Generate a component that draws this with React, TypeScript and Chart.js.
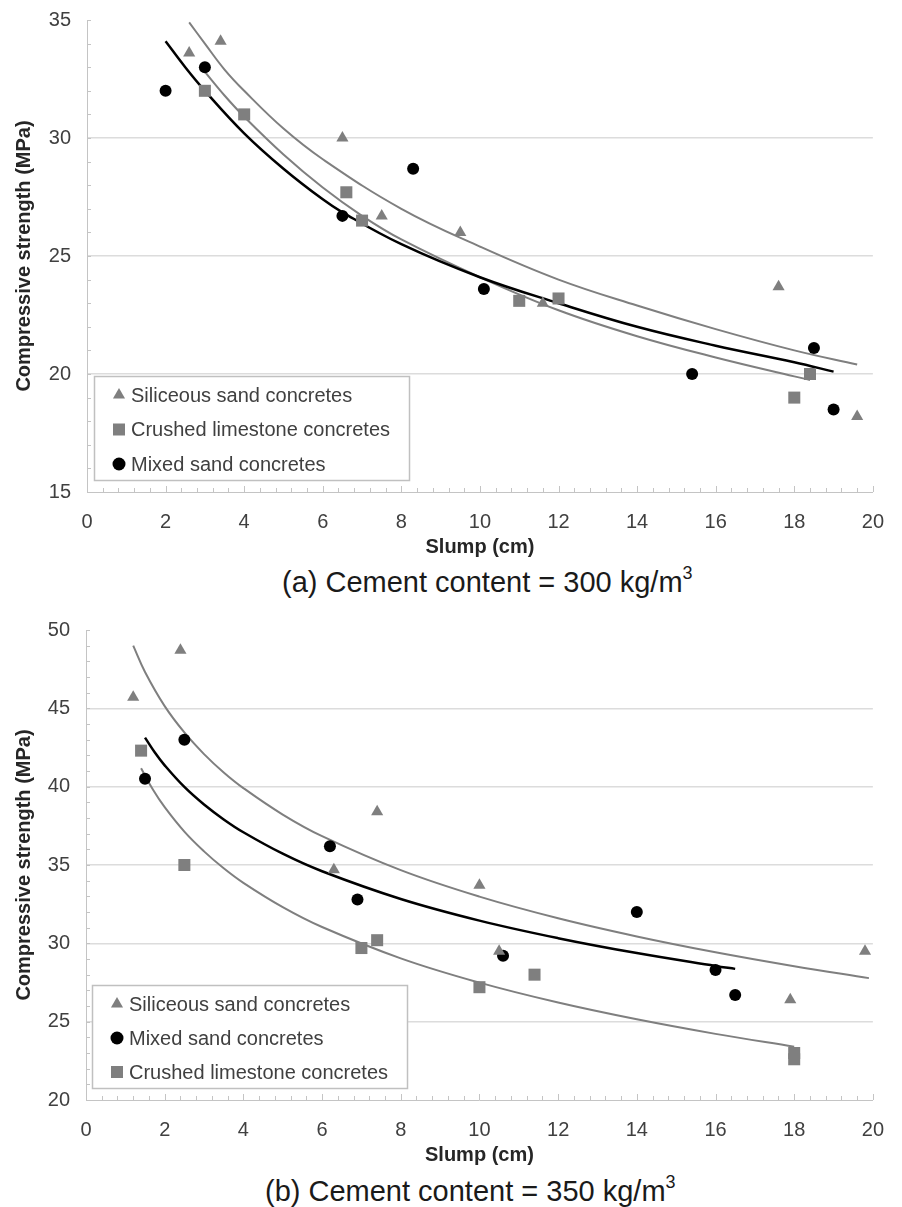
import React, { useEffect, useRef } from 'react';
import { Chart, registerables } from 'chart.js';

Chart.register(...registerables);

const FONT = '"Liberation Sans", Arial, Helvetica, sans-serif';
const GRAY = '#7f7f7f';
const BLACK = '#000000';
const AXIS = '#c4c4c4';
const GRID = '#dcdcdc';
const TICK_COLOR = '#404040';
const TITLE_COLOR = '#262626';

// ---------- shared axis ticks ----------
const X_TICKS = [0, 2, 4, 6, 8, 10, 12, 14, 16, 18, 20];
const A_Y_TICKS = [15, 20, 25, 30, 35];
const B_Y_TICKS = [20, 25, 30, 35, 40, 45, 50];
const X_MINOR_STEP = 0.4;
const Y_MINOR_STEP = 1;

// ---------- panel (a): cement content 300 kg/m3 ----------
const A_SIL_X = [2.6, 3.4, 6.5, 7.5, 9.5, 11.6, 17.6, 19.6];
const A_SIL_Y = [33.6, 34.1, 30.0, 26.7, 26.0, 23.0, 23.7, 18.2];
const A_CRU_X = [3.0, 4.0, 6.6, 7.0, 11.0, 12.0, 18.0, 18.4];
const A_CRU_Y = [32.0, 31.0, 27.7, 26.5, 23.1, 23.2, 19.0, 20.0];
const A_MIX_X = [2.0, 3.0, 6.5, 8.3, 10.1, 15.4, 18.5, 19.0];
const A_MIX_Y = [32.0, 33.0, 26.7, 28.7, 23.6, 20.0, 21.1, 18.5];

const A_SIL_FIT_X = [2.6, 3, 3.5, 4, 5, 6, 8, 10, 12, 14, 16, 18, 19.6];
const A_SIL_FIT_Y = [34.9, 34.0, 32.9, 32.0, 30.4, 29.1, 27.0, 25.4, 24.0, 22.9, 21.9, 21.0, 20.4];
const A_CRU_FIT_X = [3, 3.5, 4, 5, 6, 7, 8, 10, 12, 14, 16, 18, 18.4];
const A_CRU_FIT_Y = [32.8, 31.8, 30.9, 29.3, 27.9, 26.7, 25.7, 24.1, 22.7, 21.6, 20.7, 19.9, 19.75];
const A_MIX_FIT_X = [2, 2.5, 3, 4, 5, 6, 6.5, 8, 10, 12, 14, 16, 18, 19];
const A_MIX_FIT_Y = [34.1, 33.0, 32.0, 30.2, 28.7, 27.4, 26.85, 25.5, 24.1, 23.0, 22.0, 21.2, 20.5, 20.1];

// ---------- panel (b): cement content 350 kg/m3 ----------
const B_SIL_X = [1.2, 2.4, 6.3, 7.4, 10.0, 10.5, 17.9, 19.8];
const B_SIL_Y = [45.7, 48.7, 34.7, 38.4, 33.7, 29.5, 26.4, 29.5];
const B_MIX_X = [1.5, 2.5, 6.2, 6.9, 10.6, 14.0, 16.0, 16.5];
const B_MIX_Y = [40.5, 43.0, 36.2, 32.8, 29.2, 32.0, 28.3, 26.7];
const B_CRU_X = [1.4, 2.5, 7.0, 7.4, 10.0, 11.4, 18.0, 18.0];
const B_CRU_Y = [42.3, 35.0, 29.7, 30.2, 27.2, 28.0, 23.0, 22.6];

const B_SIL_FIT_X = [1.2, 1.5, 2, 2.5, 3, 3.5, 4, 5, 6, 8, 10, 12, 14, 16, 18, 19.9];
const B_SIL_FIT_Y = [49.0, 47.32, 45.14, 43.46, 42.08, 40.91, 39.91, 38.22, 36.84, 34.67, 32.98, 31.6, 30.44, 29.43, 28.54, 27.78];
const B_MIX_FIT_X = [1.5, 1.75, 2, 2.5, 3, 3.5, 4, 5, 6, 8, 10, 12, 14, 16, 16.5];
const B_MIX_FIT_Y = [43.13, 42.18, 41.36, 39.98, 38.86, 37.91, 37.09, 35.72, 34.6, 32.83, 31.45, 30.33, 29.38, 28.56, 28.37];
const B_CRU_FIT_X = [1.4, 1.7, 2, 2.5, 3, 3.5, 4, 5, 6, 8, 10, 12, 14, 16, 18];
const B_CRU_FIT_Y = [41.17, 39.82, 38.69, 37.13, 35.87, 34.79, 33.86, 32.31, 31.04, 29.04, 27.49, 26.22, 25.15, 24.22, 23.4];

const LABEL_SIL = 'Siliceous sand concretes';
const LABEL_CRU = 'Crushed limestone concretes';
const LABEL_MIX = 'Mixed sand concretes';

const pts = (xs: number[], ys: number[]) => xs.map((x, i) => ({ x, y: ys[i] }));

function scatterSet(label: string, xs: number[], ys: number[], style: string, color: string, radius: number) {
  return {
    label,
    data: pts(xs, ys),
    pointStyle: style,
    pointRadius: radius,
    pointBackgroundColor: color,
    pointBorderColor: color,
    pointBorderWidth: 0,
    backgroundColor: color,
    borderColor: color,
    showLine: false,
    isMarker: true,
  } as any;
}

function fitSet(xs: number[], ys: number[], color: string, width: number) {
  return {
    label: 'fit',
    data: pts(xs, ys),
    showLine: true,
    pointRadius: 0,
    borderColor: color,
    borderWidth: width,
    backgroundColor: 'transparent',
    fill: false,
    tension: 0.4,
    isMarker: false,
  } as any;
}

const minorTicksPlugin = {
  id: 'minorTicks',
  beforeDatasetsDraw(chart: any) {
    const { ctx } = chart;
    const xs = chart.scales.x;
    const ys = chart.scales.y;
    ctx.save();
    ctx.strokeStyle = AXIS;
    ctx.lineWidth = 1;
    ctx.beginPath();
    const nx = Math.round((xs.max - xs.min) / X_MINOR_STEP);
    for (let i = 0; i <= nx; i++) {
      const v = xs.min + i * X_MINOR_STEP;
      const px = Math.round(xs.getPixelForValue(v)) + 0.5;
      const major = Math.abs(v / 2 - Math.round(v / 2)) < 1e-6;
      ctx.moveTo(px, ys.bottom);
      ctx.lineTo(px, ys.bottom - (major ? 6 : 4));
    }
    const ny = Math.round((ys.max - ys.min) / Y_MINOR_STEP);
    for (let i = 0; i <= ny; i++) {
      const v = ys.min + i * Y_MINOR_STEP;
      const py = Math.round(ys.getPixelForValue(v)) + 0.5;
      ctx.moveTo(xs.left, py);
      ctx.lineTo(xs.left + 4, py);
    }
    ctx.stroke();
    ctx.restore();
  },
};

function drawSymbol(ctx: CanvasRenderingContext2D, style: string, cx: number, cy: number, color: string) {
  ctx.fillStyle = color;
  ctx.beginPath();
  if (style === 'triangle') {
    const r = 7;
    ctx.moveTo(cx, cy - r);
    ctx.lineTo(cx + 0.866 * r, cy + r / 2);
    ctx.lineTo(cx - 0.866 * r, cy + r / 2);
    ctx.closePath();
  } else if (style === 'rect') {
    ctx.rect(cx - 6, cy - 6, 12, 12);
  } else {
    ctx.arc(cx, cy, 6.5, 0, Math.PI * 2);
  }
  ctx.fill();
}

const legendBoxPlugin = {
  id: 'legendBox',
  afterDraw(chart: any, _args: any, opts: any) {
    const { ctx } = chart;
    ctx.save();
    ctx.fillStyle = '#ffffff';
    ctx.fillRect(opts.left, opts.top, opts.width, opts.height);
    ctx.strokeStyle = '#c0c0c0';
    ctx.lineWidth = 1.5;
    ctx.strokeRect(opts.left + 0.5, opts.top + 0.5, opts.width, opts.height);
    ctx.font = `20px ${FONT}`;
    ctx.textBaseline = 'middle';
    ctx.textAlign = 'left';
    const sets = chart.data.datasets.filter((d: any) => d.isMarker);
    sets.forEach((d: any, i: number) => {
      const cy = opts.firstRow + i * opts.rowGap;
      drawSymbol(ctx, d.pointStyle, opts.symbolX, cy, d.pointBackgroundColor);
      ctx.fillStyle = TICK_COLOR;
      ctx.fillText(d.label, opts.textX, cy + 1);
    });
    ctx.restore();
  },
};

function makeConfig(
  datasets: any[],
  yTicks: number[],
  yWidth: number,
  padTop: number,
  legend: any
) {
  const yMin = yTicks[0];
  const yMax = yTicks[yTicks.length - 1];
  return {
    type: 'scatter',
    data: { datasets },
    options: {
      animation: false,
      responsive: false,
      devicePixelRatio: 1,
      events: [],
      layout: { padding: { left: 0, right: 15, top: padTop, bottom: 1 } },
      plugins: {
        legend: { display: false },
        tooltip: { enabled: false },
        legendBox: legend,
      },
      scales: {
        x: {
          type: 'linear',
          min: X_TICKS[0],
          max: X_TICKS[X_TICKS.length - 1],
          afterBuildTicks: (s: any) => {
            s.ticks = X_TICKS.map((v) => ({ value: v }));
          },
          afterFit: (s: any) => {
            s.height = 67;
          },
          grid: { display: false, drawTicks: false },
          border: { display: true, color: AXIS, width: 1 },
          ticks: {
            padding: 18,
            color: TICK_COLOR,
            font: { family: FONT, size: 20 },
            maxRotation: 0,
          },
          title: {
            display: true,
            text: 'Slump (cm)',
            color: TITLE_COLOR,
            font: { family: FONT, size: 20, weight: 'bold' },
            padding: { top: 0, bottom: 0 },
          },
        },
        y: {
          type: 'linear',
          min: yMin,
          max: yMax,
          afterBuildTicks: (s: any) => {
            s.ticks = yTicks.map((v) => ({ value: v }));
          },
          afterFit: (s: any) => {
            s.width = yWidth;
          },
          grid: {
            display: true,
            drawTicks: false,
            lineWidth: 1.5,
            color: (c: any) => (c.tick && (c.tick.value === yMax || c.tick.value === yMin) ? 'rgba(0,0,0,0)' : GRID),
          },
          border: { display: true, color: AXIS, width: 1 },
          ticks: {
            padding: 16,
            color: TICK_COLOR,
            font: { family: FONT, size: 20 },
          },
          title: {
            display: true,
            text: 'Compressive strength (MPa)',
            color: TITLE_COLOR,
            font: { family: FONT, size: 20, weight: 'bold' },
            padding: { top: 12, bottom: 0 },
          },
        },
      },
    },
    plugins: [minorTicksPlugin, legendBoxPlugin],
  } as any;
}

function ChartCanvas({ config, width, height }: { config: any; width: number; height: number }) {
  const ref = useRef<HTMLCanvasElement>(null);
  useEffect(() => {
    if (!ref.current) return;
    const chart = new Chart(ref.current, config);
    return () => chart.destroy();
  }, [config]);
  return <canvas ref={ref} width={width} height={height} style={{ display: 'block', width, height }} />;
}

const configA = makeConfig(
  [
    scatterSet(LABEL_SIL, A_SIL_X, A_SIL_Y, 'triangle', GRAY, 7),
    scatterSet(LABEL_CRU, A_CRU_X, A_CRU_Y, 'rect', GRAY, 8.5),
    scatterSet(LABEL_MIX, A_MIX_X, A_MIX_Y, 'circle', BLACK, 6),
    fitSet(A_MIX_FIT_X, A_MIX_FIT_Y, BLACK, 2.5),
    fitSet(A_SIL_FIT_X, A_SIL_FIT_Y, GRAY, 2),
    fitSet(A_CRU_FIT_X, A_CRU_FIT_Y, GRAY, 2),
  ],
  A_Y_TICKS,
  87,
  27,
  { left: 94, top: 384, width: 315, height: 104, symbolX: 119, textX: 131, firstRow: 403, rowGap: 34.5 }
);

const configB = makeConfig(
  [
    scatterSet(LABEL_SIL, B_SIL_X, B_SIL_Y, 'triangle', GRAY, 7),
    scatterSet(LABEL_MIX, B_MIX_X, B_MIX_Y, 'circle', BLACK, 6),
    scatterSet(LABEL_CRU, B_CRU_X, B_CRU_Y, 'rect', GRAY, 8.5),
    fitSet(B_MIX_FIT_X, B_MIX_FIT_Y, BLACK, 2.5),
    fitSet(B_SIL_FIT_X, B_SIL_FIT_Y, GRAY, 2),
    fitSet(B_CRU_FIT_X, B_CRU_FIT_Y, GRAY, 2),
  ],
  B_Y_TICKS,
  86,
  30,
  { left: 92, top: 385, width: 315, height: 103, symbolX: 117, textX: 129, firstRow: 404, rowGap: 34 }
);

const captionStyle: React.CSSProperties = {
  position: 'absolute',
  fontFamily: FONT,
  fontSize: 29,
  lineHeight: '34px',
  color: '#1a1a1a',
  whiteSpace: 'nowrap',
};

export default function App() {
  return (
    <div style={{ position: 'absolute', left: 0, top: 0, width: 902, height: 1207, background: '#ffffff', overflow: 'hidden' }}>
      <div style={{ position: 'absolute', left: 0, top: -8 }}>
        <ChartCanvas config={configA} width={902} height={568} />
      </div>
      <div style={{ ...captionStyle, left: 282, top: 565 }}>
        (a) Cement content = 300 kg/m<sup style={{ fontSize: '62%', verticalAlign: '0.75em', lineHeight: 0 }}>3</sup>
      </div>
      <div style={{ position: 'absolute', left: 0, top: 600 }}>
        <ChartCanvas config={configB} width={902} height={568} />
      </div>
      <div style={{ ...captionStyle, left: 265, top: 1174 }}>
        (b) Cement content = 350 kg/m<sup style={{ fontSize: '62%', verticalAlign: '0.75em', lineHeight: 0 }}>3</sup>
      </div>
    </div>
  );
}
